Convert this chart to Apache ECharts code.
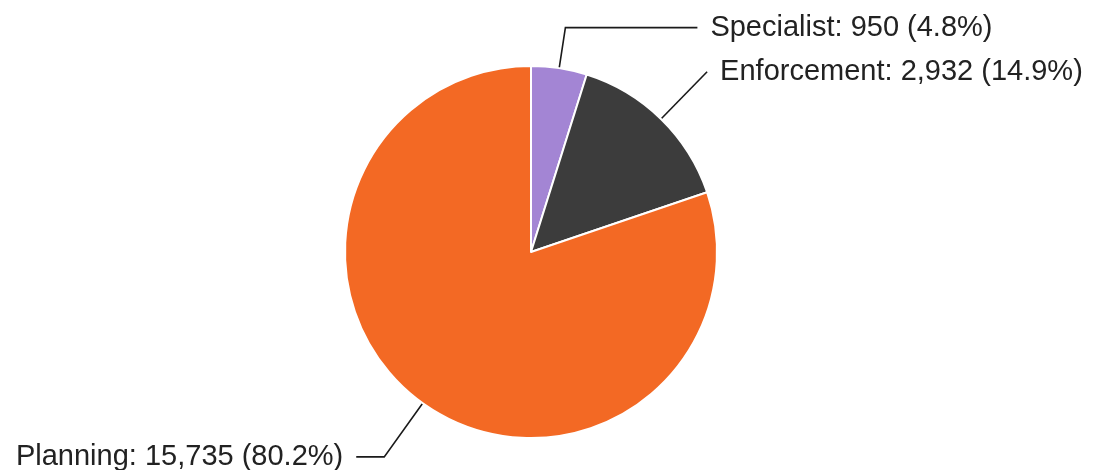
<!DOCTYPE html>
<html>
<head>
<meta charset="utf-8">
<script src="https://cdn.jsdelivr.net/npm/echarts@6/dist/echarts.min.js"></script>
<style>
html,body{margin:0;padding:0;background:#fff;}
#chart{width:1094px;height:470px;}
</style>
</head>
<body>
<div id="chart"></div>
<script>
const categories = ['Specialist', 'Enforcement', 'Planning'];
const values = [950, 2932, 15735];
const colors = ['#A385D4', '#3C3C3C', '#F36924'];
const lineLengths = [41, 66, 66];
const lineLengths2 = [132, 0, 28];
const labelLift = [10, 12, 4];

const total = values.reduce((a, b) => a + b, 0);
const data = categories.map((name, i) => ({
  name: name,
  value: values[i],
  itemStyle: { color: colors[i] },
  label: { padding: [0, 0, labelLift[i], 0] },
  labelLine: { length: lineLengths[i], length2: lineLengths2[i] }
}));

const chart = echarts.init(document.getElementById('chart'), null, { renderer: 'canvas' });
chart.setOption({
  animation: false,
  backgroundColor: '#ffffff',
  series: [{
    type: 'pie',
    center: [531, 252],
    radius: [0, 186],
    startAngle: 90,
    clockwise: true,
    avoidLabelOverlap: false,
    data: data,
    itemStyle: { borderColor: '#ffffff', borderWidth: 2 },
    label: {
      show: true,
      position: 'outside',
      fontFamily: 'Liberation Sans, Arial, sans-serif',
      fontSize: 29,
      color: '#222222',
      distanceToLabelLine: 13,
      formatter: function (p) {
        return p.name + ': ' + p.value.toLocaleString('en-US') + ' (' + (p.value / total * 100).toFixed(1) + '%)';
      }
    },
    labelLine: {
      show: true,
      lineStyle: { color: '#1a1a1a', width: 1.6 }
    },
    emphasis: { disabled: true }
  }]
});
</script>
</body>
</html>
